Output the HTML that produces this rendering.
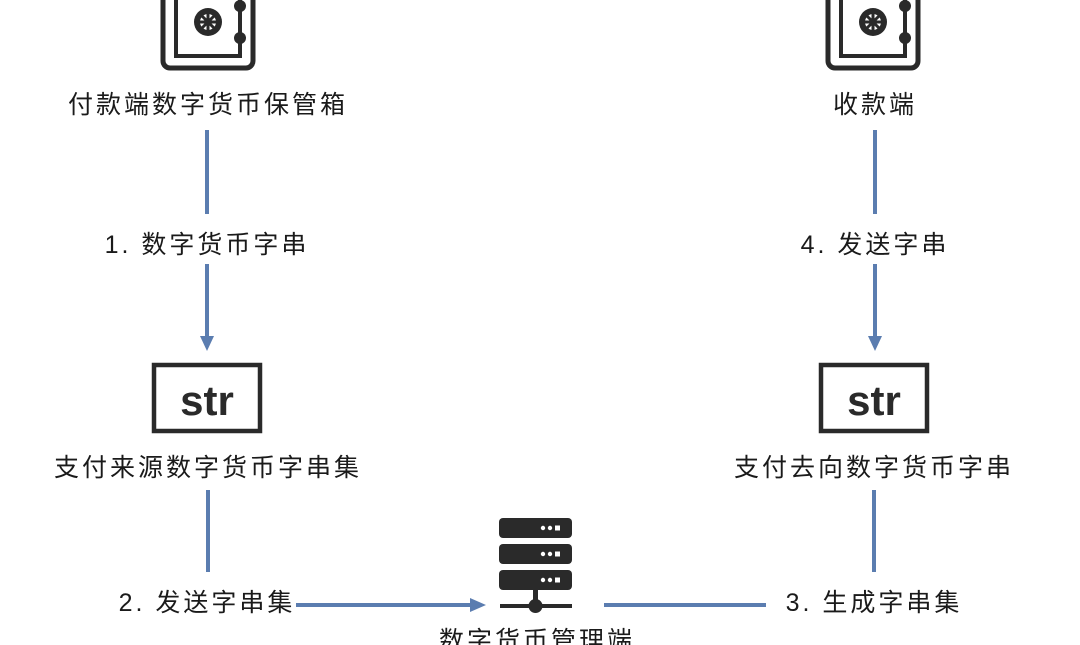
<!DOCTYPE html>
<html><head><meta charset="utf-8"><style>
html,body{margin:0;padding:0;background:#fff;}
svg{display:block}
text{font-family:"Liberation Sans","Noto Sans CJK SC",sans-serif;font-size:25px;fill:#1a1a1a;letter-spacing:3px}
</style></head><body>
<svg width="1080" height="645" viewBox="0 0 1080 645" xmlns="http://www.w3.org/2000/svg">
<defs>
<g id="safe">
  <rect x="-45" y="-20" width="90" height="88" rx="7" fill="none" stroke="#2a2a2a" stroke-width="5"/>
  <rect x="-32" y="-20" width="64" height="76" fill="none" stroke="#2a2a2a" stroke-width="4"/>
  <circle cx="0" cy="22" r="14" fill="#2a2a2a"/>
  <circle cx="0" cy="22" r="8" fill="#fff"/>
  <g stroke="#2a2a2a" stroke-width="3">
    <line x1="0" y1="13" x2="0" y2="31"/><line x1="-9" y1="22" x2="9" y2="22"/>
    <line x1="-6" y1="16" x2="6" y2="28"/><line x1="6" y1="16" x2="-6" y2="28"/>
  </g>
  <circle cx="0" cy="22" r="4" fill="#2a2a2a"/>
  <line x1="32" y1="5" x2="32" y2="40" stroke="#2a2a2a" stroke-width="3"/>
  <circle cx="32" cy="6" r="6" fill="#2a2a2a"/>
  <circle cx="32" cy="38" r="6" fill="#2a2a2a"/>
</g>
<g id="str">
  <rect x="-53" y="0" width="106" height="66" fill="none" stroke="#2a2a2a" stroke-width="4.5"/>
  <text x="0" y="50" text-anchor="middle" style="font-size:42px;font-weight:bold;letter-spacing:0;fill:#2a2a2a">str</text>
</g>
</defs>
<use href="#safe" x="208" y="0"/>
<use href="#safe" x="873" y="0"/>
<text x="208" y="113" text-anchor="middle">付款端数字货币保管箱</text>
<text x="875" y="113" text-anchor="middle">收款端</text>

<g stroke="#5b7db0" stroke-width="4" fill="none">
  <line x1="207" y1="130" x2="207" y2="214"/>
  <line x1="207" y1="264" x2="207" y2="338"/>
  <line x1="875" y1="130" x2="875" y2="214"/>
  <line x1="875" y1="264" x2="875" y2="338"/>
  <line x1="208" y1="490" x2="208" y2="572"/>
  <line x1="874" y1="490" x2="874" y2="572"/>
  <line x1="296" y1="605" x2="472" y2="605"/>
  <line x1="604" y1="605" x2="766" y2="605"/>
</g>
<g fill="#5b7db0">
  <polygon points="200,336 214,336 207,351"/>
  <polygon points="868,336 882,336 875,351"/>
  <polygon points="470,598 470,612 486,605"/>
</g>
<text x="207" y="253" text-anchor="middle">1. 数字货币字串</text>
<text x="875" y="253" text-anchor="middle">4. 发送字串</text>

<use href="#str" x="207" y="365"/>
<use href="#str" x="874" y="365"/>
<text x="208" y="476" text-anchor="middle">支付来源数字货币字串集</text>
<text x="874" y="476" text-anchor="middle">支付去向数字货币字串</text>

<text x="207" y="611" text-anchor="middle">2. 发送字串集</text>
<text x="874" y="611" text-anchor="middle">3. 生成字串集</text>

<g fill="#2a2a2a">
  <rect x="499" y="518" width="73" height="20" rx="4"/>
  <rect x="499" y="544" width="73" height="20" rx="4"/>
  <rect x="499" y="570" width="73" height="20" rx="4"/>
  <rect x="533" y="590" width="5" height="10"/>
  <rect x="500" y="604" width="72" height="4"/>
  <circle cx="535.5" cy="606" r="7"/>
</g>
<g fill="#fff">
  <circle cx="543" cy="528" r="2.2"/><circle cx="550" cy="528" r="2.2"/><rect x="555" y="525.5" width="5" height="5"/>
  <circle cx="543" cy="554" r="2.2"/><circle cx="550" cy="554" r="2.2"/><rect x="555" y="551.5" width="5" height="5"/>
  <circle cx="543" cy="580" r="2.2"/><circle cx="550" cy="580" r="2.2"/><rect x="555" y="577.5" width="5" height="5"/>
</g>
<text x="537" y="649" text-anchor="middle">数字货币管理端</text>
</svg>
</body></html>
